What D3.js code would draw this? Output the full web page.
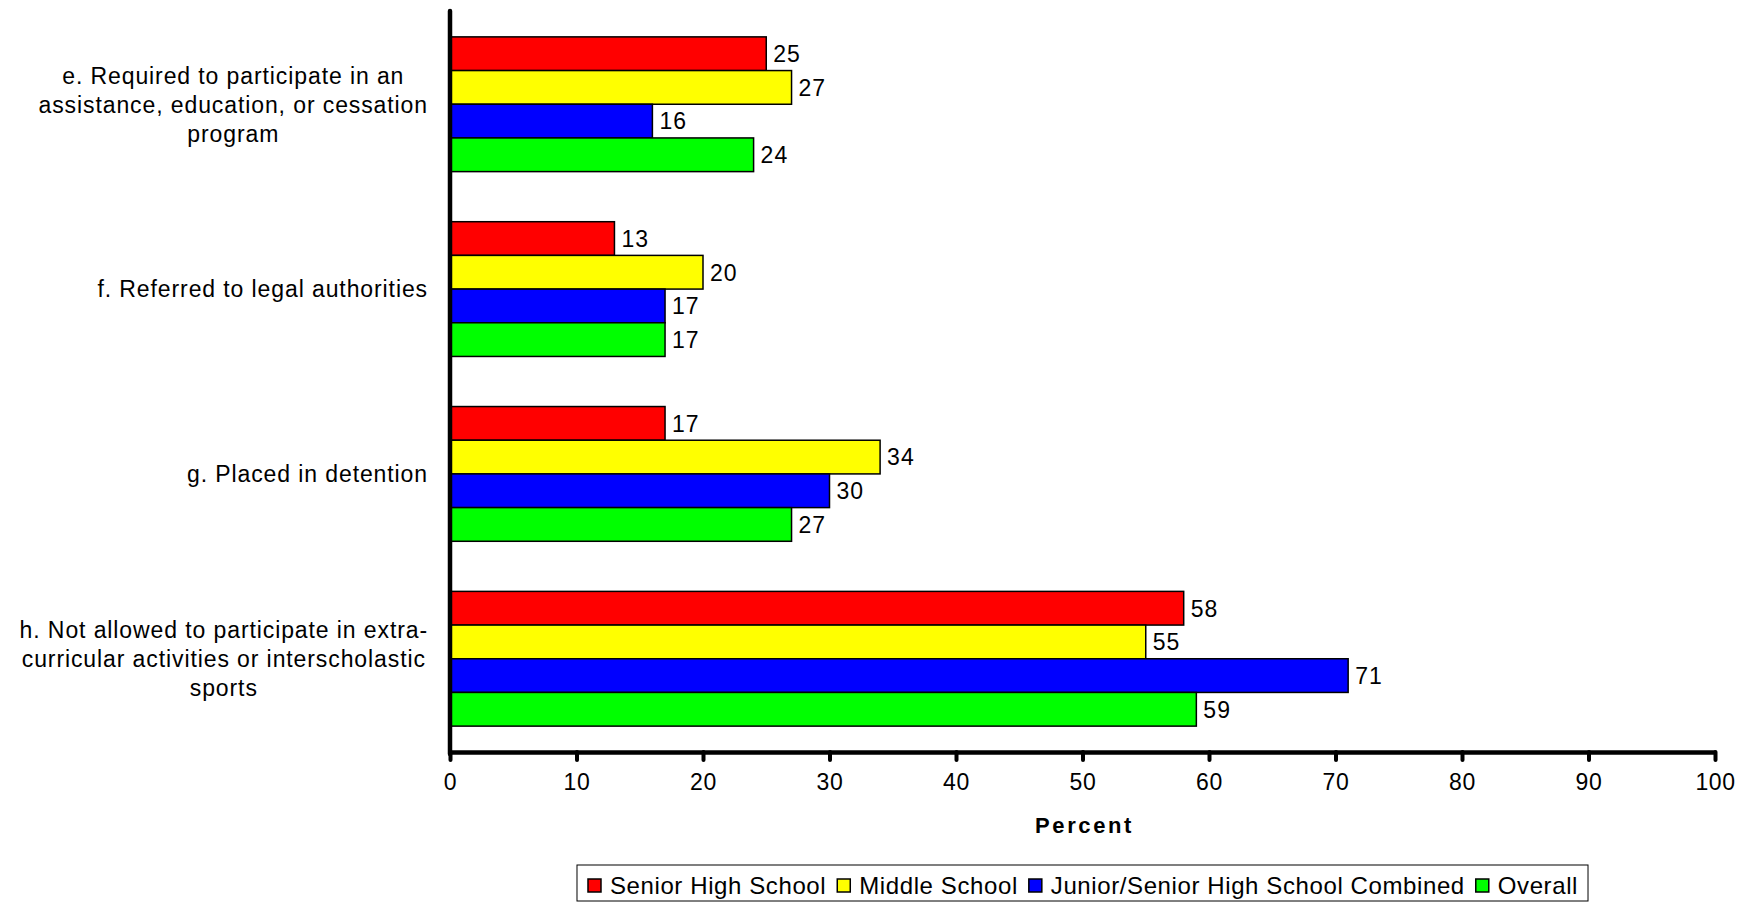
<!DOCTYPE html>
<html>
<head>
<meta charset="utf-8">
<script src="https://cdn.jsdelivr.net/npm/d3@7"></script>
<style>
  body { margin:0; background:#fff; }
  svg text { font-family:"Liberation Sans", Arial, sans-serif; fill:#000; }
</style>
</head>
<body>
<div id="chart"></div>
<script>
// data
let categories = [
  ["e. Required to participate in an", "assistance, education, or cessation", "program"],
  ["f. Referred to legal authorities"],
  ["g. Placed in detention"],
  ["h. Not allowed to participate in extra-", "curricular activities or interscholastic", "sports"]
]
let seriesNames = ["Senior High School", "Middle School", "Junior/Senior High School Combined", "Overall"]
let seriesColors = ["#ff0000", "#ffff00", "#0000ff", "#00ff00"]
let seniorHigh = [25, 13, 17, 58]
let middle     = [27, 20, 34, 55]
let combined   = [16, 17, 30, 71]
let overall    = [24, 17, 27, 59]
let xTicks = [0, 10, 20, 30, 40, 50, 60, 70, 80, 90, 100]

let allSeries = [seniorHigh, middle, combined, overall]

function render(){
  let width = 1758, height = 903,
      margin = { top:11, left:450, right:43, bottom:151 },
      innerWidth = width - margin.left - margin.right,
      innerHeight = height - margin.top - margin.bottom

  let svg = d3.select("#chart").append("svg")
      .attr("width", width).attr("height", height)
  let g = svg.append("g").attr("transform", `translate(${margin.left},${margin.top})`)

  let xScale = d3.scaleLinear().domain([0, 100]).range([0, innerWidth])
  let yScale = d3.scaleBand().domain(d3.range(categories.length))
      .range([0, innerHeight]).paddingInner(0.271).paddingOuter(0.14)
  let ySub = d3.scaleBand().domain(d3.range(seriesNames.length)).range([0, yScale.bandwidth()])

  let rows = []
  categories.forEach((c, i) => {
    allSeries.forEach((s, j) => rows.push({ cat:i, ser:j, value:s[i] }))
  })

  g.selectAll("rect.bar")
    .data(rows)
    .enter()
      .append("rect")
      .attr("class", "bar")
      .attr("x", 0)
      .attr("y", d => yScale(d.cat) + ySub(d.ser))
      .attr("width", d => xScale(d.value))
      .attr("height", ySub.bandwidth())
      .attr("fill", d => seriesColors[d.ser])
      .attr("stroke", "#000")
      .attr("stroke-width", 1.5)

  g.selectAll("text.val")
    .data(rows)
    .enter()
      .append("text")
      .attr("class", "val")
      .attr("x", d => xScale(d.value) + 7)
      .attr("y", d => yScale(d.cat) + ySub(d.ser) + ySub.bandwidth()/2)
      .attr("dy", "0.36em")
      .style("font-size", "23px")
      .style("letter-spacing", "1px")
      .text(d => d.value)

  // x axis
  let xAxis = d3.axisBottom(xScale).tickValues(xTicks).tickSize(8).tickPadding(14).tickSizeOuter(0)
  let xGroup = g.append("g").attr("transform", `translate(0,${innerHeight})`).call(xAxis)
  xGroup.select(".domain").attr("stroke", "#000").attr("stroke-width", 4.5)
  xGroup.selectAll(".tick line").attr("stroke", "#000").attr("stroke-width", 4).attr("stroke-linecap", "round")
  xGroup.selectAll(".tick text")
    .style("font-family", "'Liberation Sans', Arial, sans-serif")
    .style("font-size", "23px").style("letter-spacing", "0.6px")
    .attr("fill", "#000")

  // y axis line
  g.append("line")
    .attr("x1", 0).attr("x2", 0).attr("y1", 0).attr("y2", innerHeight + 2)
    .attr("stroke", "#000").attr("stroke-width", 4.5).attr("stroke-linecap", "round")

  g.append("text")
    .attr("x", innerWidth/2 + 2).attr("y", innerHeight + 81)
    .attr("text-anchor", "middle")
    .style("font-size", "22px").style("font-weight", "bold").style("letter-spacing", "2.6px")
    .text("Percent")

  // category labels, centred lines, block right-aligned
  let lineH = 29
  categories.forEach((lines, i) => {
    let lab = g.append("text")
      .style("font-size", "23px").style("letter-spacing", "0.9px")
      .attr("text-anchor", "middle")
    let cy = yScale(i) + yScale.bandwidth()/2
    lines.forEach((l, k) => {
      lab.append("tspan")
        .attr("y", cy + (k - (lines.length - 1)/2) * lineH)
        .attr("dy", "0.36em")
        .text(l)
    })
    let maxW = d3.max(lab.selectAll("tspan").nodes(), n => n.getComputedTextLength())
    lab.selectAll("tspan").attr("x", -22 - maxW/2)
  })

  // legend
  let legend = svg.append("g")
  let box = legend.append("rect").attr("fill", "#fff").attr("stroke", "#000").attr("stroke-width", 1)
  let lx = 11
  seriesNames.forEach((name, i) => {
    legend.append("rect")
      .attr("x", lx).attr("y", 14).attr("width", 13).attr("height", 13)
      .attr("fill", seriesColors[i]).attr("stroke", "#000").attr("stroke-width", 1.5)
    let t = legend.append("text")
      .attr("x", lx + 22).attr("y", 20.5).attr("dy", "0.36em")
      .style("font-size", "24px").style("letter-spacing", "0.6px")
      .text(name)
    lx += 22 + t.node().getComputedTextLength() + 11
  })
  let boxW = lx - 1
  box.attr("x", 0).attr("y", 0).attr("width", boxW).attr("height", 36)
  legend.attr("transform", `translate(${margin.left + innerWidth/2 - boxW/2},${865})`)
}

render()
</script>
</body>
</html>
